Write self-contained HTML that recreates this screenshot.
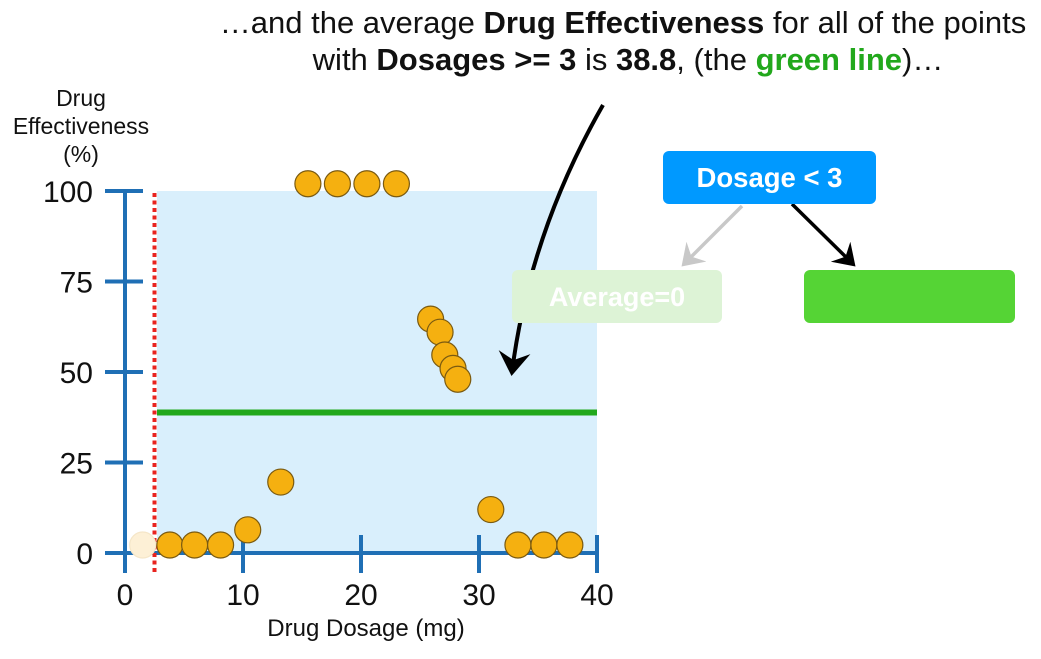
<!DOCTYPE html>
<html><head><meta charset="utf-8"><style>
body{margin:0;background:#fff;width:1041px;height:654px;overflow:hidden;font-family:"Liberation Sans",sans-serif}
</style></head><body>
<svg width="1041" height="654" viewBox="0 0 1041 654" font-family="Liberation Sans, sans-serif">
<defs>
<marker id="ab" markerWidth="8" markerHeight="8" refX="5" refY="4" orient="auto" markerUnits="strokeWidth"><path d="M0,0 L6,4 L0,8 L2,4 z" fill="#000"/></marker>
<marker id="ag" markerWidth="8" markerHeight="8" refX="5" refY="4" orient="auto" markerUnits="strokeWidth"><path d="M0,0 L6,4 L0,8 L2,4 z" fill="#c8c8c8"/></marker>
</defs>
<g font-size="31" fill="#111" text-anchor="middle">
<text x="623" y="33">…and the average <tspan font-weight="bold">Drug Effectiveness</tspan> for all of the points</text>
<text x="628" y="70">with <tspan font-weight="bold">Dosages &gt;= 3</tspan> is <tspan font-weight="bold">38.8</tspan>, (the <tspan font-weight="bold" fill="#22a81c">green line</tspan>)…</text>
</g>
<g font-size="23" fill="#111" text-anchor="middle">
<text x="81" y="106">Drug</text><text x="81" y="134">Effectiveness</text><text x="81" y="162">(%)</text>
</g>
<rect x="157" y="191" width="440" height="362" fill="#d9effc"/>
<g id="axes"></g>
<g id="marks"></g>
<text x="366" y="636" font-size="24" text-anchor="middle" fill="#111">Drug Dosage (mg)</text>
<path d="M603,105 C560,180 525,270 512,372" stroke="#000" stroke-width="4" fill="none" marker-end="url(#ab)"/>
<line x1="742" y1="206" x2="684" y2="264" stroke="#c8c8c8" stroke-width="3.5" marker-end="url(#ag)"/>
<line x1="792" y1="204" x2="853" y2="264" stroke="#000" stroke-width="3.5" marker-end="url(#ab)"/>
<g><rect x="663" y="151" width="213" height="53" rx="6" fill="#0099ff"/><text x="769.5" y="187" font-size="27.5" font-weight="bold" fill="#fff" text-anchor="middle">Dosage &lt; 3</text></g>
<g><rect x="512" y="270" width="210" height="53" rx="6" fill="#ddf3d6"/><text x="617" y="306" font-size="27" font-weight="bold" fill="#fff" text-anchor="middle">Average=0</text></g>
<rect x="804" y="270" width="211" height="53" rx="6" fill="#55d435"/>
</svg>
<script>
const xTicks=[0,10,20,30,40];
const yTicks=[0,25,50,75,100];
const dosage=[1.5,3.8,5.9,8.1,10.4,13.2,15.5,18,20.5,23,25.9,26.7,27.1,27.8,28.2,31,33.3,35.5,37.7];
const effectiveness=[2.2,2.2,2.2,2.2,6.4,19.6,102,102,102,102,64.6,61,54.7,51,48,12,2.2,2.2,2.2];
const threshold=[2.5];
const averageRight=[38.8];
const NS='http://www.w3.org/2000/svg';
const sx=v=>125+v*11.8, sy=v=>553-v*3.62;
function mk(p,t,a){const e=document.createElementNS(NS,t);for(const k in a)e.setAttribute(k,a[k]);p.appendChild(e);return e;}
const ax=document.getElementById('axes'), mg=document.getElementById('marks');
const C='#1f6fb5';
let l=mk(ax,'line',{x1:sx(0),y1:sy(100),x2:sx(0),y2:573,stroke:C,'stroke-width':4});


l=mk(ax,'line',{x1:105,y1:sy(0),x2:sx(40),y2:sy(0),stroke:C,'stroke-width':4});


yTicks.forEach(v=>{
 const t=mk(ax,'line',{x1:105,x2:143,y1:sy(v),y2:sy(v),stroke:C,'stroke-width':4});
 
 
 const tx=mk(ax,'text',{x:93,y:sy(v)+11,'font-size':30,'text-anchor':'end',fill:'#111'});tx.textContent=v;
 
 
});
xTicks.forEach(v=>{
 const t=mk(ax,'line',{x1:sx(v),x2:sx(v),y1:v==0?553:535,y2:573,stroke:C,'stroke-width':4});
 
 
 const tx=mk(ax,'text',{x:sx(v),y:605,'font-size':30,'text-anchor':'middle',fill:'#111'});tx.textContent=v;
 
 
});
const gl=mk(mg,'line',{x1:157,x2:sx(40),y1:sy(averageRight[0]),y2:sy(averageRight[0]),stroke:'#22a81c','stroke-width':6});


const rl=mk(mg,'line',{x1:sx(threshold[0]),x2:sx(threshold[0]),y1:193,y2:572,stroke:'#e8231f','stroke-width':4,'stroke-dasharray':'4 3.5'});


dosage.forEach((d,i)=>{
 const faded=d<threshold[0];
 const c=mk(mg,'circle',{cx:sx(d),cy:sy(effectiveness[i]),r:13,fill:faded?'#fdf0d6':'#f5b010',stroke:faded?'#f5e6c8':'#7a5a10','stroke-width':1.2});
 
 
});
</script>
</body></html>
